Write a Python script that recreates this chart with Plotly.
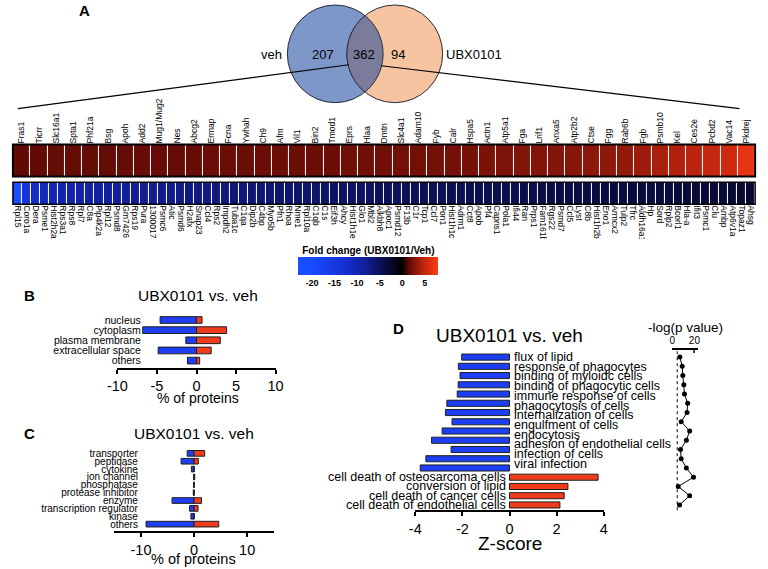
import numpy as np
import plotly.graph_objects as go

W, H = 768, 569
FONT = "Liberation Sans, Arial, sans-serif"
BLUE = "#1d3ef4"
RED = "#f03b1d"
EDGE = "#202020"

# ---------------- Panel A data ----------------
venn_names = ["veh", "UBX0101"]
venn_counts = [207, 362, 94]

top_genes = ["Fras1", "Ticrr", "Slc16a1", "Spta1", "Phf21a", "Bsg", "Apoh", "Add2", "Mug1/Mug2", "Nes",
             "Abcg2", "Ermap", "Fcna", "Ywhah", "Ch9", "Afm", "Vil1", "Bin2", "Tmod1", "Eprs",
             "Hlaa", "Dmtn", "Slc4a1", "Adam10", "Fyb", "Calr", "Hspa5", "Actn1", "Atp5a1", "Fga",
             "Lrif1", "Anxa5", "Atp2b2", "Ctse", "Fgg", "Rab6b", "Fgb", "Psmb10", "Kel", "Ces2e",
             "Pcbd2", "Vac14", "Pkdrej"]
top_fc = [1.6, 1.6, 1.7, 1.7, 1.7, 1.7, 1.8, 1.8, 1.8, 1.8,
          1.8, 1.9, 1.9, 1.9, 1.9, 2.0, 2.0, 2.0, 2.0, 2.1,
          2.1, 2.1, 2.2, 2.2, 2.3, 2.3, 2.4, 2.5, 2.6, 2.7,
          2.8, 2.9, 3.0, 3.1, 3.2, 3.4, 3.8, 4.1, 4.4, 4.7,
          5.1, 5.6, 6.8]

bottom_genes = ["Rpl15", "Coro1a", "Dera", "Psme1", "Hist2h2ac", "Rps3a1", "Rps8", "Rpl7", "C8a", "Pip4k2a",
                "Rpl12", "Psmd8", "Gm7426", "Rps19", "Pura", "1300017J02Rik", "Psmc6", "Atic", "Psmd6", "H2afx",
                "Snap23", "Ccl4", "Rps2", "Impdh2", "Tuba1c", "C1qa", "Dip2b", "C4bp", "Myo5b", "Pfn1",
                "Rhoa", "Nme1", "Rpl10a", "C1qb", "C1s", "Eif3h", "Ahcy", "Hist1h1e", "Glo1", "Mbl2",
                "Alkbh8", "Apoc1", "Psmd12", "F13b", "C1r", "Tcp1", "Ccl7", "Pon1", "Hist1h1c", "Adrm1",
                "Cct8", "Apob", "Pf4", "Capns1", "Pola1", "Ifi44", "Ran", "Prps1", "Fam161b", "Rgs22",
                "Psmd7", "Ccl5", "Lyst", "C8b", "Hist1h2bn", "Eno1", "Armcx2", "Tulp2", "Tfrc", "Aldh16a1",
                "Hp", "Sord", "Rplp2", "Bcorl1", "Hla-a", "Ifit3", "Psmc1", "Clu", "Ambp", "Atp6v1a",
                "Topaz1", "Ahsg"]
bottom_fc = [-21.0, -14.0, -11.5, -10.8, -10.2, -9.8, -9.5, -9.2, -9.0, -8.8,
             -8.6, -8.4, -8.2, -8.0, -7.8, -7.7, -7.5, -7.4, -7.2, -7.1,
             -7.0, -6.9, -6.8, -6.7, -6.6, -6.5, -6.4, -6.3, -6.2, -6.1,
             -6.0, -5.9, -5.8, -5.8, -5.7, -5.6, -5.5, -5.5, -5.4, -5.3,
             -5.2, -5.2, -5.1, -5.0, -5.0, -4.9, -4.8, -4.8, -4.7, -4.6,
             -4.6, -4.5, -4.4, -4.4, -4.3, -4.2, -4.2, -4.1, -4.0, -4.0,
             -3.9, -3.9, -3.8, -3.7, -3.7, -3.6, -3.6, -3.5, -3.5, -3.4,
             -3.4, -3.3, -3.3, -3.2, -3.2, -3.1, -3.1, -3.0, -3.0, -2.9,
             -2.9, -2.8]
cbar_ticks = [-20, -15, -10, -5, 0, 5]

# ---------------- Panel B data ----------------
b_cats = ["nucleus", "cytoplasm", "plasma membrane", "extracellular space", "others"]
b_down = [-4.6, -6.8, -1.35, -4.85, -1.15]
b_up = [0.7, 3.8, 3.0, 1.85, 0.4]
b_ticks = [-10, -5, 0, 5, 10]

# ---------------- Panel C data ----------------
c_cats = ["transporter", "peptidase", "cytokine", "ion channel", "phosphatase", "protease inhibitor",
          "enzyme", "transcription regulator", "kinase", "others"]
c_down = [-1.3, -2.45, -0.5, -0.1, -0.1, -0.15, -4.15, -0.85, -0.6, -9.05]
c_up = [2.0, 0.8, 0.0, 0.12, 0.0, 0.0, 1.4, 0.75, 0.0, 4.65]
c_ticks = [-10, 0, 10]

# ---------------- Panel D data ----------------
d_down_terms = ["flux of lipid", "response of phagocytes", "binding of myloidc cells",
                "binding of phagocytic cells", "immune response of cells", "phagocytosis of cells",
                "internalization of cells", "engulfment of cells", "endocytosis",
                "adhesion of endothelial cells", "infection of cells", "viral infection"]
d_up_terms = ["cell death of osteosarcoma cells", "conversion of lipid", "cell death of cancer cells",
              "cell death of endothelial cells"]
d_z = [-2.03, -2.17, -2.10, -2.18, -2.22, -2.66, -2.72, -2.44, -2.86, -3.31, -2.48, -3.55, -3.79,
       3.76, 2.48, 2.32, 2.14]
d_logp = [6.8, 8.9, 9.5, 10.4, 11.0, 13.9, 13.3, 8.0, 15.7, 12.7, 7.4, 8.0, 12.7,
          19.2, 5.3, 15.7, 6.5]
d_threshold = 4.4
d_ticks = [-4, -2, 0, 2, 4]
p_ticks = [0, 20]


def px(x):
    return x / W


def py(y):
    return 1 - y / H


def labels(vals):
    return [str(v) for v in vals]


fig = go.Figure()

# ---- heatmaps ----
fig.add_trace(go.Heatmap(z=[top_fc], x=top_genes, y=["UBX0101"], coloraxis="coloraxis",
                         xgap=1, xaxis="x", yaxis="y", hoverinfo="x+z"))
fig.add_trace(go.Heatmap(z=[bottom_fc], x=bottom_genes, y=["veh"], coloraxis="coloraxis",
                         xgap=1, xaxis="x2", yaxis="y2", hoverinfo="x+z"))

# ---- Panel B ----
for vals, col in ((b_down, BLUE), (b_up, RED)):
    fig.add_trace(go.Bar(y=b_cats, x=vals, orientation="h", width=0.66,
                         marker=dict(color=col, line=dict(color=EDGE, width=1)),
                         xaxis="x3", yaxis="y3", showlegend=False))
# ---- Panel C ----
for vals, col in ((c_down, BLUE), (c_up, RED)):
    fig.add_trace(go.Bar(y=c_cats, x=vals, orientation="h", width=0.72,
                         marker=dict(color=col, line=dict(color=EDGE, width=1)),
                         xaxis="x4", yaxis="y4", showlegend=False))
# ---- Panel D ----
d_pos = list(range(len(d_z)))
d_cols = [BLUE if v < 0 else RED for v in d_z]
fig.add_trace(go.Bar(y=d_pos, x=d_z, orientation="h", width=0.66,
                     marker=dict(color=d_cols, line=dict(color=EDGE, width=1)),
                     xaxis="x5", yaxis="y5", showlegend=False))
fig.add_trace(go.Scatter(x=d_logp, y=d_pos, mode="lines+markers",
                         line=dict(color="black", width=1), marker=dict(color="black", size=5),
                         xaxis="x6", yaxis="y6", showlegend=False))

cscale = [[0.0, "rgb(25,80,255)"], [0.0968, "rgb(25,75,255)"], [0.3548, "rgb(20,45,205)"],
          [0.4839, "rgb(18,30,150)"], [0.5806, "rgb(12,18,90)"], [0.6613, "rgb(8,8,45)"],
          [0.7419, "rgb(0,0,0)"], [0.7903, "rgb(95,10,5)"], [0.8387, "rgb(135,22,10)"],
          [0.9032, "rgb(195,38,15)"], [1.0, "rgb(255,60,20)"]]

noax = dict(showgrid=False, zeroline=False)
bar_x = dict(showgrid=False, zeroline=False, showline=True, linecolor="black", linewidth=2,
             ticks="outside", ticklen=4, tickwidth=2, tickcolor="black", tickmode="array",
             tickfont=dict(family=FONT, size=14.5, color="black"))

fig.update_layout(
    width=W, height=H, margin=dict(l=0, r=0, t=0, b=0),
    paper_bgcolor="white", plot_bgcolor="white",
    barmode="relative", showlegend=False,
    font=dict(family=FONT, color="black"),
    coloraxis=dict(
        colorscale=cscale, cmin=-23, cmax=8,
        colorbar=dict(orientation="h", x=px(367), xanchor="center", y=py(245), yanchor="top",
                      len=140, lenmode="pixels", thickness=18, outlinewidth=0,
                      xpad=0, ypad=0, tickmode="array", tickvals=cbar_ticks,
                      ticktext=labels(cbar_ticks), ticks="",
                      tickfont=dict(family=FONT, size=9, weight="bold"),
                      title=dict(text="Fold change (UBX0101/Veh)", side="top",
                                 font=dict(family=FONT, size=10, weight="bold")))),
    xaxis=dict(domain=[px(3), px(763)], anchor="y", side="top", tickangle=-90, ticks="",
               tickmode="array", tickvals=top_genes, ticktext=top_genes,
               tickfont=dict(family=FONT, size=8.5), **noax),
    yaxis=dict(domain=[py(175), py(143)], anchor="x", showticklabels=False, **noax),
    xaxis2=dict(domain=[px(3), px(763)], anchor="y2", side="bottom", tickangle=90, ticks="",
                tickmode="array", tickvals=bottom_genes, ticktext=bottom_genes,
                tickfont=dict(family=FONT, size=8.5), **noax),
    yaxis2=dict(domain=[py(203), py(181)], anchor="x2", showticklabels=False, **noax),
    xaxis3=dict(domain=[px(110), px(272)], anchor="y3", range=[-10, 10],
                tickvals=b_ticks, ticktext=labels(b_ticks), **bar_x),
    yaxis3=dict(domain=[py(367), py(314)], anchor="free", position=px(134), range=[4.7, -0.5],
                categoryorder="array", categoryarray=b_cats, tickmode="array",
                tickvals=b_cats, ticktext=b_cats, ticks="", showline=False,
                tickfont=dict(family=FONT, size=10.5), **noax),
    xaxis4=dict(domain=[px(107), px(270)], anchor="y4", range=[-15, 15],
                tickvals=c_ticks, ticktext=labels(c_ticks), **bar_x),
    yaxis4=dict(domain=[py(531), py(449)], anchor="free", position=px(131), range=[9.89, -0.5],
                categoryorder="array", categoryarray=c_cats, tickmode="array",
                tickvals=c_cats, ticktext=c_cats, ticks="", showline=False,
                tickfont=dict(family=FONT, size=10), **noax),
    xaxis5=dict(domain=[px(415), px(608)], anchor="y5", range=[-4, 4],
                tickvals=d_ticks, ticktext=labels(d_ticks), **bar_x),
    yaxis5=dict(domain=[py(510), py(351.7)], anchor="x5", range=[16.57, -0.5],
                showticklabels=False, showline=False, **noax),
    xaxis6=dict(domain=[px(677.7), px(704)], anchor="y6", side="top", range=[-0.5, 22.8],
                tickmode="array", tickvals=p_ticks, ticktext=labels(p_ticks),
                showline=True, linecolor="black", linewidth=1.5,
                ticks="inside", ticklen=3, tickwidth=1.5, tickfont=dict(family=FONT, size=10), **noax),
    yaxis6=dict(domain=[py(510), py(349)], anchor="x6", range=[16.57, -0.79],
                showticklabels=False, showline=False, **noax),
)

shapes = []
# heatmap frames
shapes.append(dict(type="rect", xref="x domain", yref="y domain", x0=0, x1=1, y0=0, y1=1,
                   line=dict(color="black", width=2)))
shapes.append(dict(type="rect", xref="x2 domain", yref="y2 domain", x0=0, x1=1, y0=0, y1=1,
                   line=dict(color="black", width=1.5)))

# Venn diagram
c1 = (333.0, 52.0)
c2 = (394.0, 52.0)
r = 49.0
shapes.append(dict(type="circle", xref="paper", yref="paper", x0=px(c1[0] - r), x1=px(c1[0] + r),
                   y0=py(c1[1] + r), y1=py(c1[1] - r), fillcolor="#7d97c9",
                   line=dict(color="#2a2a3a", width=1)))
shapes.append(dict(type="circle", xref="paper", yref="paper", x0=px(c2[0] - r), x1=px(c2[0] + r),
                   y0=py(c2[1] + r), y1=py(c2[1] - r), fillcolor="#f6c4a0",
                   line=dict(color="#2a2a3a", width=1)))
half = (c2[0] - c1[0]) / 2
a = np.arccos(half / r)
t1 = np.linspace(-a, a, 40)
t2 = np.linspace(np.pi - a, np.pi + a, 40)
pts = [(c1[0] + r * np.cos(t), c1[1] + r * np.sin(t)) for t in t1]
pts += [(c2[0] + r * np.cos(t), c2[1] + r * np.sin(t)) for t in t2]
path = "M " + " L ".join(f"{px(x):.5f},{py(y):.5f}" for x, y in pts) + " Z"
shapes.append(dict(type="path", xref="paper", yref="paper", path=path, fillcolor="#7b7b9c",
                   line=dict(color="#2a2a3a", width=1)))
# zoom lines from Venn to heatmap
shapes.append(dict(type="line", xref="paper", yref="paper", x0=px(8), y0=py(107), x1=px(347), y1=py(63),
                   line=dict(color="black", width=1.2)))
shapes.append(dict(type="line", xref="paper", yref="paper", x0=px(380), y0=py(64), x1=px(747), y1=py(107),
                   line=dict(color="black", width=1.2)))
# mask clipping the long gene labels under the heatmap
shapes.append(dict(type="rect", xref="paper", yref="paper", x0=0, x1=1, y0=py(300), y1=py(237.5),
                   fillcolor="white", line=dict(width=0), layer="above"))
# threshold line for -log(p)
shapes.append(dict(type="line", xref="x6", yref="y6 domain", x0=d_threshold, x1=d_threshold, y0=0, y1=1,
                   line=dict(color="black", width=1, dash="dot")))
fig.update_layout(shapes=shapes)

ann = []


def text(x, y, s, size, bold=False, xanchor="center"):
    ann.append(dict(x=px(x), y=py(y), xref="paper", yref="paper", text=s, showarrow=False,
                    xanchor=xanchor, yanchor="middle",
                    font=dict(family=FONT, size=size, color="black", weight="bold" if bold else "normal")))


# panel letters
text(76, 9, "A", 15, True)
text(20, 295, "B", 15, True)
text(20, 433, "C", 15, True)
text(398, 328, "D", 15, True)
# Venn labels
text(268, 53, venn_names[0], 13)
text(475, 53, venn_names[1], 13)
text(321, 53, str(venn_counts[0]), 13)
text(363, 53, str(venn_counts[1]), 13)
text(397, 53, str(venn_counts[2]), 13)
# titles
text(193, 295, "UBX0101 vs. veh", 15.5)
text(193, 397, "% of proteins", 14)
text(188, 433, "UBX0101 vs. veh", 15.5)
text(188, 559, "% of proteins", 14.5)
text(511, 335, "UBX0101 vs. veh", 19)
text(512, 543, "Z-score", 19)
text(692, 327, "-log(p value)", 13.5)

# D term labels, next to the zero line
label_step = 1.05
for i, term in enumerate(d_down_terms):
    ann.append(dict(x=0, y=i * label_step, xref="x5", yref="y5", text=term, showarrow=False,
                    xanchor="left", yanchor="middle", xshift=2,
                    font=dict(family=FONT, size=12.5, color="black")))
n_down = sum(1 for v in d_z if v < 0)
for j, term in enumerate(d_up_terms):
    ann.append(dict(x=0, y=n_down + j, xref="x5", yref="y5", text=term, showarrow=False,
                    xanchor="right", yanchor="middle", xshift=-2,
                    font=dict(family=FONT, size=12.5, color="black")))

fig.update_layout(annotations=ann)
fig.write_html("out.html", config={"displayModeBar": False},
               post_script="document.body.style.margin='0';")
